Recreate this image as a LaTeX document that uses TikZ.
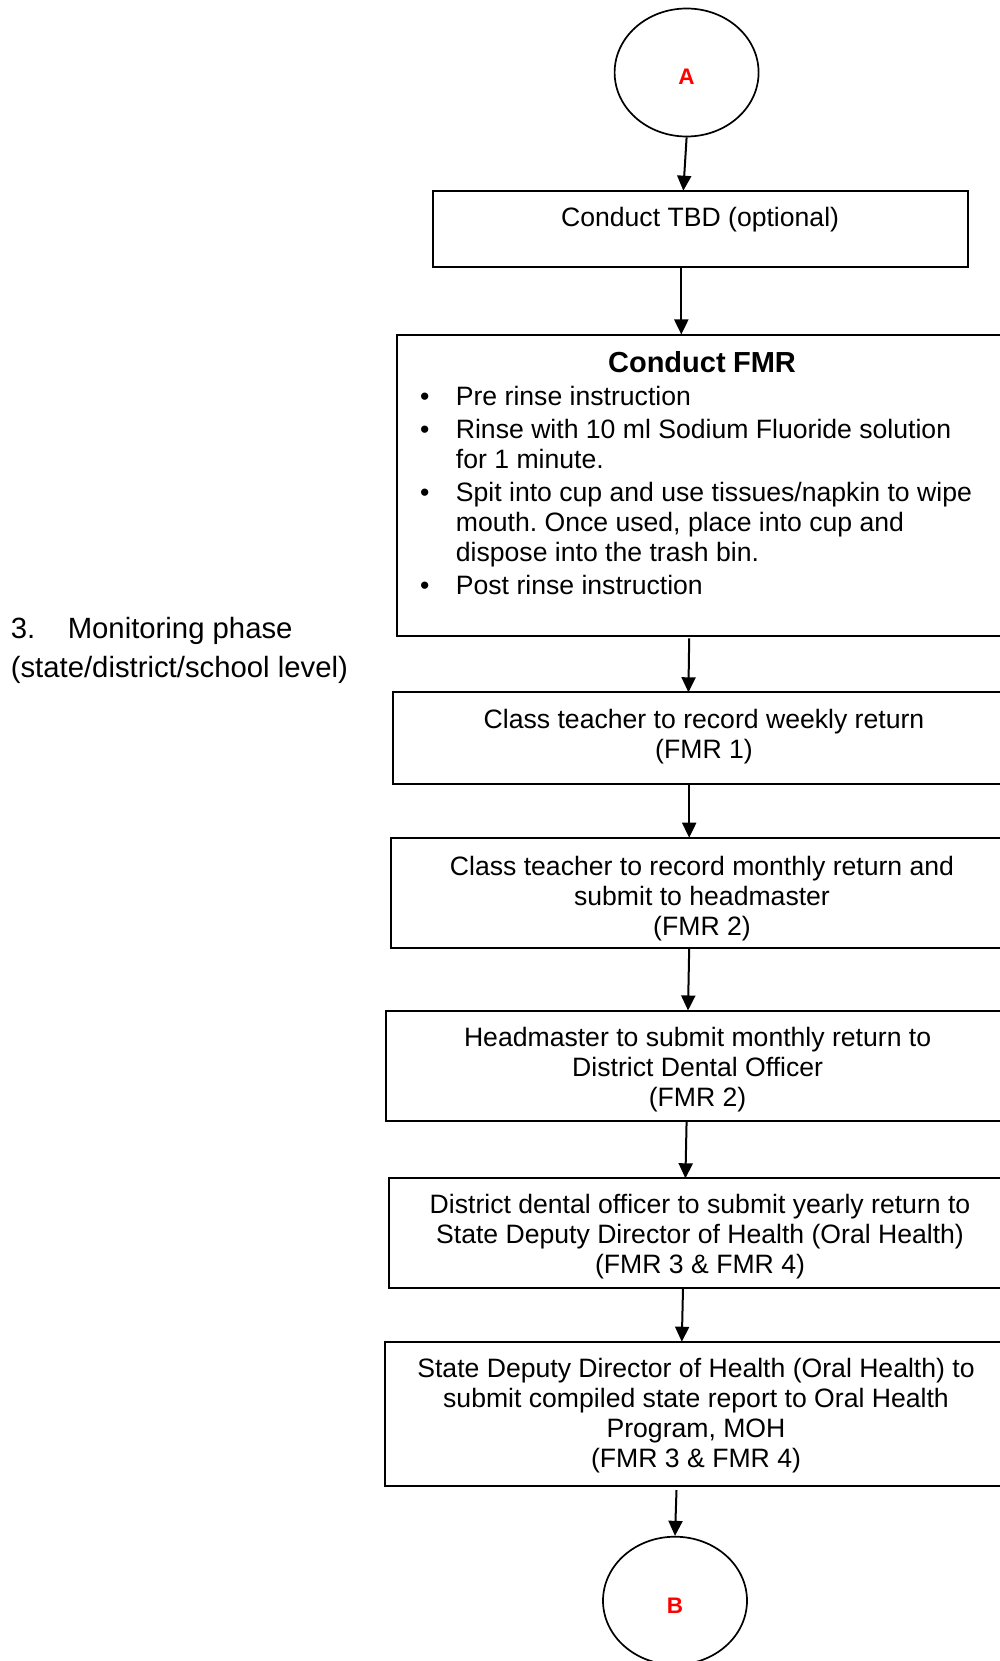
\documentclass[tikz,border=0pt]{standalone}
\usepackage{fontspec}
\setmainfont{Liberation Sans}
\usetikzlibrary{arrows.meta,shapes.geometric}
\newcommand{\fmrbullet}[1]{\par\hangindent=59.3pt\hangafter=1\noindent\hspace*{23.5pt}\makebox[35.8pt][l]{\textbullet}#1\par}
\newcommand{\fmrbr}{\hfil\break}
\newcommand{\natsp}{\spaceskip=0.2778em\relax\xspaceskip=0.2778em\relax}
\begin{document}
\begin{tikzpicture}[x=1pt,y=-1pt,
  every node/.style={font=\fontsize{26.6}{30}\selectfont},
  box/.style={draw, line width=2pt, rectangle, inner sep=0pt, outer sep=0pt, anchor=north},
  boxc/.style={box, align=center},
  conn/.style={ellipse, draw, line width=1.7pt, minimum width=144pt, minimum height=128pt, inner sep=0pt,
    text=red, font=\fontsize{22.5}{24}\selectfont\bfseries, text height=25pt, text depth=0pt},
  arr/.style={line width=2pt, -{Triangle[length=15pt,width=14pt]}}
]
\useasboundingbox (0,0) rectangle (1000,1661);
\clip (0,0) rectangle (1000,1661);

% connectors (circles)
\node[conn] (A) at (686.6,72.5) {A};
\node[conn] (B) at (675,1600.7) {B};

% boxes
\node[boxc, text width=535pt, text height=36pt, text depth=40pt] (tbd) at (700.1,190.7)
  {\natsp Conduct TBD (optional)};

\node[box, text width=610.8pt, text height=38.2pt, text depth=263.6pt] (fmr) at (702,334.5)
  {\raggedright\frenchspacing\natsp\parskip=3pt\relax
   {\centering\fontsize{29}{30}\selectfont\bfseries Conduct FMR\par}
   \fmrbullet{Pre rinse instruction}
   \fmrbullet{Rinse with 10 ml Sodium Fluoride solution\fmrbr for 1 minute.}
   \fmrbullet{Spit into cup and use tissues/napkin to wipe\fmrbr mouth. Once used, place into cup and\fmrbr dispose into the trash bin.}
   \fmrbullet{Post rinse instruction}};

\node[boxc, text width=622.6pt, text height=36pt, text depth=55.7pt] (b1) at (704,692.3)
  {\natsp Class teacher to record weekly return\\(FMR 1)};
\node[boxc, text width=622.6pt, text height=37.3pt, text depth=72.7pt] (b2) at (702,837.7)
  {\natsp Class teacher to record monthly return and\\submit to headmaster\\(FMR 2)};
\node[boxc, text width=623.2pt, text height=36.2pt, text depth=73.8pt] (b3) at (697.6,1010.5)
  {\natsp Headmaster to submit monthly return to\\District Dental Officer\\(FMR 2)};
\node[boxc, text width=623pt, text height=35pt, text depth=75pt] (b4) at (700,1178.3)
  {\natsp District dental officer to submit yearly return to\\State Deputy Director of Health (Oral Health)\\(FMR 3 \& FMR 4)};
\node[boxc, text width=622.2pt, text height=36pt, text depth=108.3pt] (b5) at (696,1341.7)
  {\natsp State Deputy Director of Health (Oral Health) to\\submit compiled state report to Oral Health\\Program, MOH\\(FMR 3 \& FMR 4)};

% side label
\node[anchor=base west, inner sep=0pt, text width=400pt, align=left,
      font=\fontsize{29.3}{39}\selectfont] (phase) at (10.6,638)
  {\natsp\makebox[57pt][l]{3.}Monitoring phase\\(state/district/school level)};

% arrows
\draw[arr] (A.south) -- ([xshift=-16.8pt]tbd.north);
\draw[arr] ([xshift=-18.8pt]tbd.south) -- ([xshift=-20.7pt]fmr.north);
\draw[arr] ([xshift=-12.8pt,yshift=-2pt]fmr.south) -- ([xshift=-15.6pt]b1.north);
\draw[arr] ([xshift=-14.8pt]b1.south) -- ([xshift=-12.8pt]b2.north);
\draw[arr] ([xshift=-12.8pt]b2.south) -- ([xshift=-9.6pt]b3.north);
\draw[arr] ([xshift=-11pt]b3.south) -- ([xshift=-14.6pt]b4.north);
\draw[arr] ([xshift=-17pt]b4.south) -- ([xshift=-14.2pt]b5.north);
\draw[arr] ([xshift=-19.5pt,yshift=-4pt]b5.south) -- (B.north);
\end{tikzpicture}
\end{document}
